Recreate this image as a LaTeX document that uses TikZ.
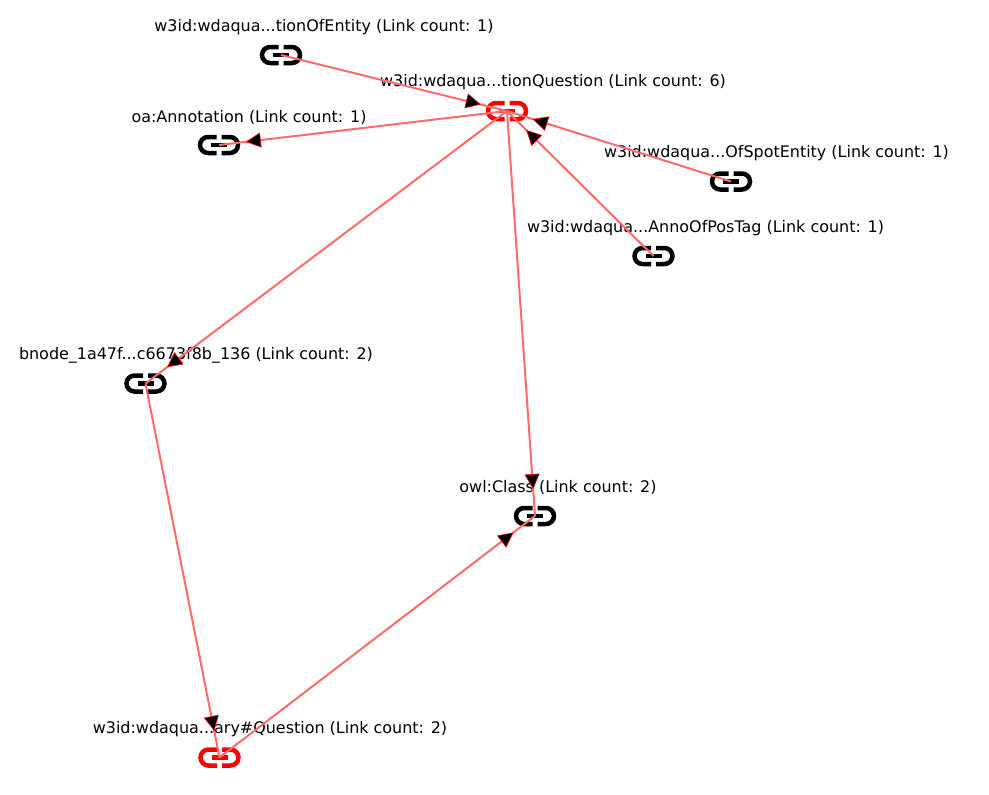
\documentclass[tikz,border=0pt]{standalone}
\usepackage{fontspec}
\setmainfont{DejaVu Sans}
\usetikzlibrary{arrows.meta,decorations.markings}
\definecolor{edgered}{HTML}{FF6A6A}
\tikzset{
	linkicon/.style={inner sep=0pt, minimum width=46pt, minimum height=26pt, path picture={
		\begin{scope}[shift={(path picture bounding box.center)}, draw=#1, line width=4.5pt]
			\draw (-2.5,8) -- (-11,8) arc (90:270:8) -- (-2.5,-8);
			\draw (2.5,8) -- (11,8) arc (90:-90:8) -- (2.5,-8);
			\draw (-8,0) -- (8,0);
		\end{scope}}},
	linktext/.style={inner sep=0pt, font=\fontsize{15.95}{18}\selectfont},
	linkedge/.style={draw=edgered, line width=2pt, postaction={decorate}, decoration={markings,
		mark=at position -27pt with {\arrow{Triangle[length=15pt, width=15pt, color=red, fill=black, line width=0.6pt]}}}}
}
\begin{document}
\begin{tikzpicture}[x=1pt, y=-1pt]
	\useasboundingbox (0,0) rectangle (989,795);
	\node[linktext] (entitytext)at(324, 27) {w3id:wdaqua...tionOfEntity (Link count: 1)};
	\node[linktext] (questiontext)at(553, 82) {w3id:wdaqua...tionQuestion (Link count: 6)};
	\node[linktext] (annotext)at(249, 117) {oa:Annotation (Link count: 1)};
	\node[linktext] (spottext)at(776.5, 153) {w3id:wdaqua...OfSpotEntity (Link count: 1)};
	\node[linktext] (postagtext)at(705.5, 228) {w3id:wdaqua...AnnoOfPosTag (Link count: 1)};
	\node[linktext] (bnodetext)at(196, 355) {bnode\_1a47f...c6673f8b\_136 (Link count: 2)};
	\node[linktext] (classtext)at(558, 487) {owl:Class (Link count: 2)};
	\node[linktext] (vocabtext)at(270, 729) {w3id:wdaqua...ary\#Question (Link count: 2)};
	\node[linkicon=black] (entity)at(281, 55) {};
	\node[linkicon=red] (question)at(507, 111) {};
	\node[linkicon=black] (anno)at(219, 145) {};
	\node[linkicon=black] (spot)at(731, 181.5) {};
	\node[linkicon=black] (postag)at(653.5, 256) {};
	\node[linkicon=black] (bnode)at(145.5, 383.5) {};
	\node[linkicon=black] (class)at(535, 516) {};
	\node[linkicon=red] (vocab)at(219.5, 757.5) {};
	\draw[linkedge] (entity.center) -- (question.center);
	\draw[linkedge] (question.center) -- (anno.center);
	\draw[linkedge] (spot.center) -- (question.center);
	\draw[linkedge] (postag.center) -- (question.center);
	\draw[linkedge] (question.center) -- (bnode.center);
	\draw[linkedge] (question.center) -- (class.center);
	\draw[linkedge] (bnode.center) -- (vocab.center);
	\draw[linkedge] (vocab.center) -- (class.center);
\end{tikzpicture}
\end{document}
